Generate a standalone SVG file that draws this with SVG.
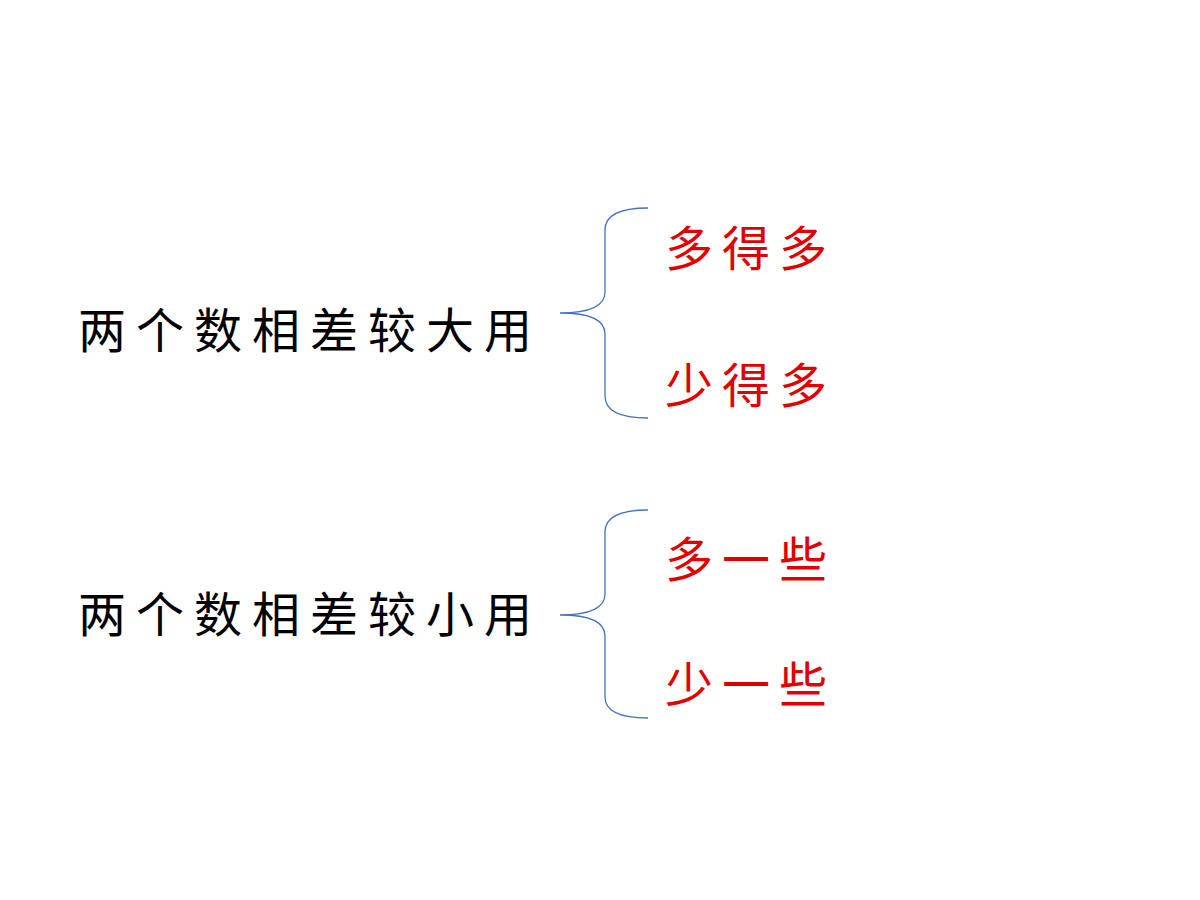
<svg xmlns="http://www.w3.org/2000/svg" width="1200" height="900" viewBox="0 0 1200 900">
<style>
.main{font-family:"Noto Sans CJK SC",sans-serif;font-size:48px;fill:#000;letter-spacing:10px}
.red{font-family:"Noto Sans CJK SC",sans-serif;font-size:48px;fill:#e00000;letter-spacing:9px}
.brace{fill:none;stroke:#4472c4;stroke-width:1.3}
</style>
<rect width="1200" height="900" fill="#fff"/>
<g id="connectors">
<path class="brace" d="M648,208 Q605,208 605,230 L605,292 Q605,313 560,313 Q605,313 605,334 L605,396 Q605,418 648,418"/>
<path class="brace" d="M648,510 Q605,510 605,532 L605,594 Q605,615 560,615 Q605,615 605,636 L605,697 Q605,718 648,718"/>
</g>
<g id="n1"><text class="main" x="78" y="348">两个数相差较大用</text></g>
<g id="n2"><text class="main" x="78" y="632">两个数相差较小用</text></g>
<g id="n3"><text class="red" x="665" y="266">多得多</text></g>
<g id="n4"><text class="red" x="665" y="403">少得多</text></g>
<g id="n5"><text class="red" x="665" y="577">多一些</text></g>
<g id="n6"><text class="red" x="665" y="702">少一些</text></g>
</svg>
